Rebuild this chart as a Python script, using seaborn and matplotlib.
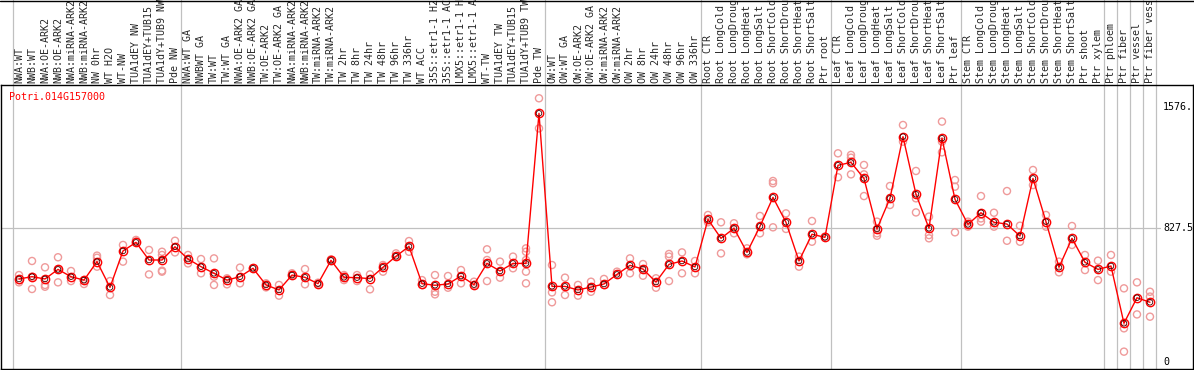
import matplotlib
matplotlib.use("Agg")
import matplotlib.pyplot as plt
import matplotlib.transforms as mtransforms
from matplotlib.lines import Line2D
import seaborn as sns
import pandas as pd

# === Data ===
gene = "Potri.014G157000"

# labels as they show in the reference (long ones are cut at the top there)
samples = [
    "NWA:WT", "NWB:WT", "NWA:OE-ARK2", "NWB:OE-ARK2", "NWA:miRNA-ARK2",
    "NWB:miRNA-ARK2", "NW 0hr", "WT H2O", "WT-NW", "TUA1dEY NW",
    "TUA1dEY+TUB15", "TUA1dY+TUB9 NW", "Pde NW",
    "NWA:WT GA", "NWBWT GA", "TW:WT", "TW:WT GA", "NWA:OE-ARK2 GA",
    "NWB:OE-ARK2 GA", "TW:OE-ARK2", "TW:OE-ARK2 GA", "NWA:miRNA-ARK2",
    "NWB:miRNA-ARK2", "TW:miRNA-ARK2", "TW:miRNA-ARK2", "TW 2hr", "TW 8hr",
    "TW 24hr", "TW 48hr", "TW 96hr", "TW 336hr", "WT ACC",
    "35S::etr1-1 H2", "35S::etr1-1 AC", "LMX5::etr1-1 H",
    "LMX5::etr1-1 A", "WT-TW", "TUA1dEY TW", "TUA1dEY+TUB15",
    "TUA1dY+TUB9 TW", "Pde TW",
    "OW:WT", "OW:WT GA", "OW:OE-ARK2", "OW:OE-ARK2 GA", "OW:miRNA-ARK2",
    "OW:miRNA-ARK2", "OW 2hr", "OW 8hr", "OW 24hr", "OW 48hr", "OW 96hr",
    "OW 336hr",
    "Root CTR", "Root LongCold", "Root LongDroug", "Root LongHeat",
    "Root LongSalt", "Root ShortCold", "Root ShortDrou", "Root ShortHeat",
    "Root ShortSalt", "Ptr root",
    "Leaf CTR", "Leaf LongCold", "Leaf LongDroug", "Leaf LongHeat",
    "Leaf LongSalt", "Leaf ShortCold", "Leaf ShortDrou", "Leaf ShortHeat",
    "Leaf ShortSalt", "Ptr leaf",
    "Stem CTR", "Stem LongCold", "Stem LongDroug", "Stem LongHeat",
    "Stem LongSalt", "Stem ShortCold", "Stem ShortDrou", "Stem ShortHeat",
    "Stem ShortSalt", "Ptr shoot",
    "Ptr xylem", "Ptr phloem", "Ptr fiber", "Ptr vessel", "Ptr fiber vess",
]

means = [
    513, 527, 513, 572, 527, 506, 620, 461, 686, 739, 630, 630, 712, 636, 589,
    548, 506, 527, 579, 476, 445, 537,
    523, 484, 628, 523, 521, 515, 585, 653, 714, 484, 474, 482, 531, 478, 609,
    562, 609, 609, 1536, 467, 467, 445,
    463, 482, 541, 597, 574, 494, 603, 624, 587, 881, 764, 826, 677, 838, 1017,
    863, 624, 789, 770, 1215, 1233, 1134, 822,
    1011, 1392, 1036, 826, 1382, 1005, 850, 922, 863, 852, 778, 1134, 867, 585,
    764, 616, 572, 593, 239, 397, 369,
]

replicates = [
    [537, 506, 492], [624, 451, 527], [585, 476, 465], [647, 492, 572],
    [562, 500], [506, 482], [657, 644, 589], [500, 414], [723, 620],
    [754, 743], [692, 541], [681, 661, 564, 558], [749, 677], [661, 609],
    [636, 548], [640, 527, 476], [517, 480], [583, 486], [579], [486, 461],
    [476, 410], [548, 537], [574, 480], [484, 490], [634, 624], [537, 506],
    [537, 500], [541, 449], [599, 558], [671, 651], [747, 681], [506, 476],
    [537, 434, 418], [531, 459], [568, 486], [496, 476], [696, 630, 500],
    [620, 521], [651, 579], [702, 681, 630, 558, 486], [1629, 1443],
    [599, 430, 369], [521, 414], [476, 410], [496, 434], [513, 476], [558],
    [640, 548], [605, 533], [517, 459], [667, 651, 500], [677, 548],
    [624, 548], [908, 863], [863, 671], [857, 795], [702, 665], [902, 795],
    [1118, 1104, 832], [918, 822], [651, 589], [871, 743], [775],
    [1289, 1141], [1279, 1262, 1159], [1217, 1159, 1025], [867, 795, 780],
    [1087, 970], [1464, 1361], [1180, 1011, 924], [898, 784, 764],
    [1485, 1361, 1295], [1124, 1083, 801], [867, 836], [1025, 887, 867],
    [922, 836], [1056, 749], [842, 743], [1186, 1093], [908, 836],
    [620, 554], [840, 723], [661, 568], [626, 506], [661, 558],
    [455, 208, 64], [492, 294], [434, 404, 280],
]

scale_ticks = [0, 827.5, 1576]
scale_labels = ["0", "827.5", "1576."]
group_starts = [0, 13, 41, 53, 63, 73, 84, 85, 86, 87, 88]

mean_df = pd.DataFrame({"idx": range(len(samples)), "value": means})
rep_df = pd.DataFrame(
    [(i, v) for i, vals in enumerate(replicates) for v in vals],
    columns=["idx", "value"],
)

# === Style ===
sns.set_style("white")
plt.rcParams["font.family"] = ["DejaVu Sans Mono"]

W, H = 1194, 370
fig = plt.figure(figsize=(W / 100, H / 100), dpi=100)
ax = fig.add_axes([1 / W, 1 / H, 1192 / W, 284 / H])

# === Group separators + reference line ===
for g in group_starts:
    ax.axvline(g - 0.5, ymin=0, ymax=1 + 85 / 284, color="#c0c0c0",
               lw=0.9, clip_on=False, zorder=1)
ax.axhline(827.5, xmin=0, xmax=1159 / 1192, color="#c0c0c0", lw=0.9, zorder=1)

# === Replicates and means ===
sns.scatterplot(data=rep_df, x="idx", y="value", ax=ax, s=26,
                facecolors="none", edgecolor="#ef9a9a", linewidth=1.0,
                legend=False, zorder=2)
sns.lineplot(data=mean_df, x="idx", y="value", ax=ax, color="red", lw=1.0,
             marker="o", ms=6, mfc="none", mec="red", mew=1.0,
             errorbar=None, zorder=3)
# dark inner ring of the mean markers
sns.scatterplot(data=mean_df, x="idx", y="value", ax=ax, s=16,
                facecolors="none", edgecolor="#400000", linewidth=0.6,
                legend=False, zorder=4)

# === Axes ===
ax.set_xlim(-1.385, 90.31)
ax.set_ylim(-43.2, 1711)
ax.set_xticks(range(len(samples)))
ax.set_xticklabels(samples, rotation=90, fontsize=7.2)
ax.xaxis.tick_top()
ax.tick_params(axis="x", length=0, pad=1.2)
ax.set_yticks([])
ax.set_xlabel("")
ax.set_ylabel("")
for sp in ax.spines.values():
    sp.set_visible(True)
    sp.set_color("black")
    sp.set_linewidth(1.0)

trans = mtransforms.blended_transform_factory(ax.transAxes, ax.transData)
for v, lab in zip(scale_ticks, scale_labels):
    ax.text(1162 / 1192, v, lab, transform=trans, ha="left", va="center",
            fontsize=7.2, color="black")

fig.text(9.5 / W, 1 - 97 / H, gene, color="red", fontsize=7.2,
         ha="left", va="center")
fig.add_artist(Line2D([0, 1], [1 - 0.5 / H] * 2, color="black", lw=1.0,
                      transform=fig.transFigure))

fig.savefig("out.png", dpi=100)
plt.close(fig)
